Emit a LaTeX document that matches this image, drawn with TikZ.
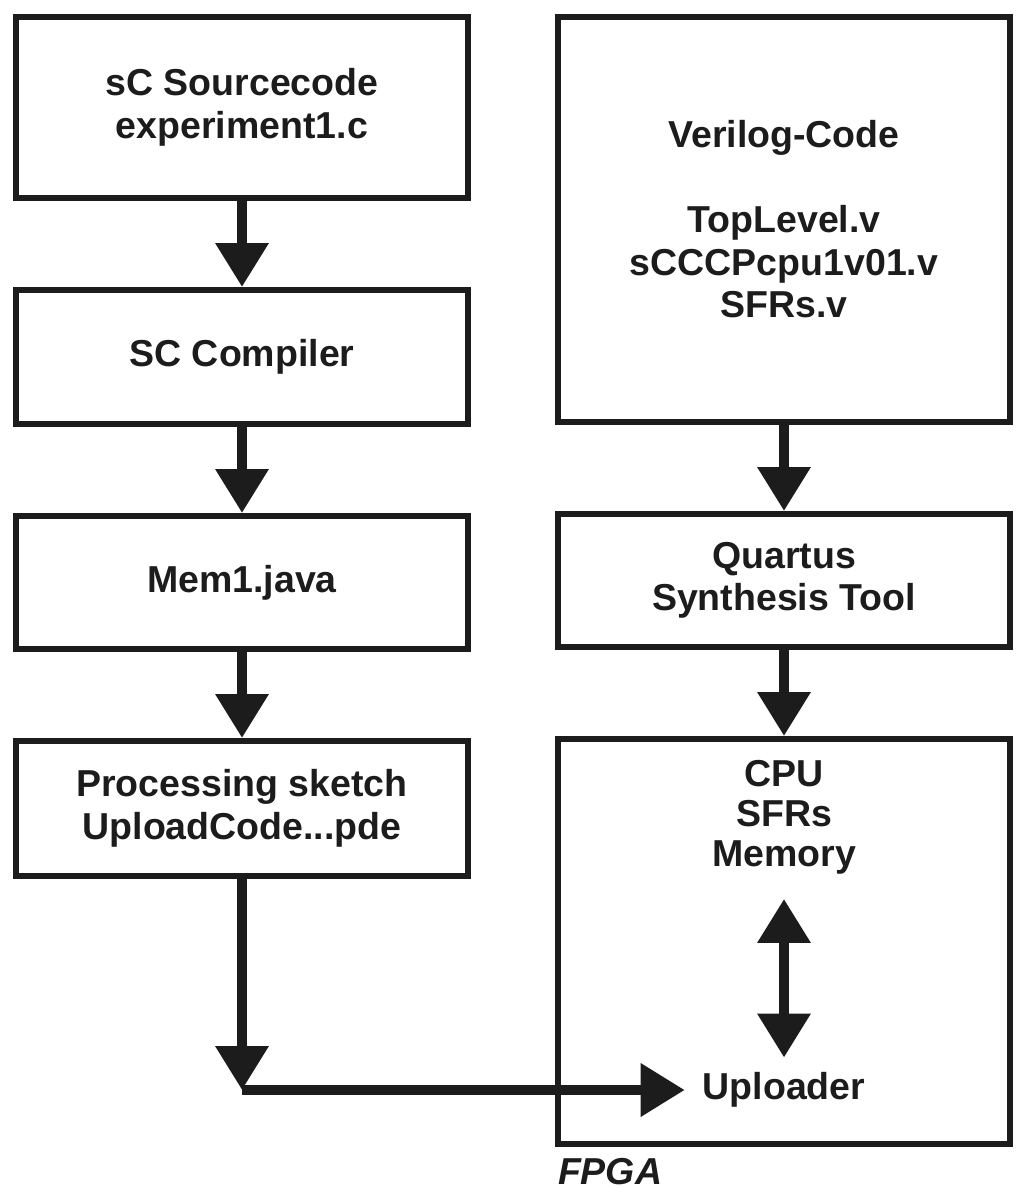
\documentclass[tikz,border=0pt]{standalone}
\usepackage{fontspec}
\setmainfont{Liberation Sans}
\usetikzlibrary{positioning, arrows.meta}
\definecolor{ink}{RGB}{28,28,28}

\begin{document}
\begin{tikzpicture}[x=1pt, y=-1pt, ink, line width=6pt, node distance=86pt,
  >={Triangle[length=44pt, width=51pt]},
  font=\fontsize{37.5}{42.5}\selectfont\bfseries,
  box/.style={draw, minimum width=452pt, align=center, inner sep=0pt},
  lbl/.style={inner sep=0pt, outer sep=0pt, align=center},
  flow/.style={->, line width=10pt}]
  \useasboundingbox (0,0) rectangle (1024,1196);
  % software side
  \node[box, minimum height=181pt, anchor=north west] (src) at (13,14) {sC Sourcecode\\experiment1.c};
  \node[box, minimum height=134pt, below=of src] (comp) {SC Compiler};
  \node[box, minimum height=133pt, below=of comp] (mem) {Mem1.java};
  \node[box, minimum height=135pt, below=of mem] (proc) {Processing sketch\\UploadCode...pde};
  % hardware side
  \node[box, minimum height=405pt, right=84pt of src.north east, anchor=north west] (veri)
    {Verilog-Code\\[42.5pt]TopLevel.v\\sCCCPcpu1v01.v\\SFRs.v};
  \node[box, minimum height=133pt, below=of veri] (quart) {Quartus\\Synthesis Tool};
  \node[box, minimum height=405pt, below=of quart] (fpga) {};
  \node[lbl, font=\fontsize{37.5}{40}\selectfont\bfseries, below=24pt of fpga.north] (mems) {CPU\\SFRs\\Memory};
  \node[lbl, inner xsep=18pt] (upl) at ([yshift=57pt]fpga.south) {Uploader};
  \node[lbl, font=\fontsize{37.5}{42.5}\selectfont\bfseries\itshape, below right=11pt and 3pt of fpga.south west] (fpgalbl) {FPGA};
  \coordinate (bend) at (proc.south |- upl.west);

  \draw[flow] (src) -- (comp);
  \draw[flow] (comp) -- (mem);
  \draw[flow] (mem) -- (proc);
  \draw[flow] (veri) -- (quart);
  \draw[flow] (quart) -- (fpga);
  \draw[flow] (proc) -- (bend);
  \draw[flow] (bend) -- (upl.west);
  \draw[flow, <->, shorten <=25pt, shorten >=15pt] (mems) -- (upl);
\end{tikzpicture}
\end{document}
